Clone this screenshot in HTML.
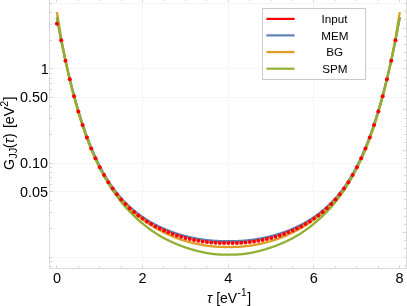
<!DOCTYPE html>
<html><head><meta charset="utf-8"><title>Plot</title>
<style>
html,body{margin:0;padding:0;background:#fff;}
body{width:407px;height:306px;overflow:hidden;}
svg{display:block;will-change:transform;font-family:"Liberation Sans",sans-serif;}
</style></head><body>
<svg width="407" height="306" viewBox="0 0 407 306">
<rect width="407" height="306" fill="#fff"/>
<g shape-rendering="crispEdges"><rect x="50" y="3" width="356" height="1" fill="#f5f5f5"/><rect x="50" y="68" width="356" height="1" fill="#f5f5f5"/><rect x="50" y="97" width="356" height="1" fill="#f5f5f5"/><rect x="50" y="163" width="356" height="1" fill="#f5f5f5"/><rect x="50" y="191" width="356" height="1" fill="#f5f5f5"/><rect x="50" y="257" width="356" height="1" fill="#f5f5f5"/><rect x="142" y="0" width="1" height="268" fill="#f5f5f5"/><rect x="228" y="0" width="1" height="268" fill="#f5f5f5"/><rect x="313" y="0" width="1" height="268" fill="#f5f5f5"/><rect x="49" y="-1" width="1" height="270" fill="#d9d9d9"/><rect x="406" y="-1" width="1" height="270" fill="#d9d9d9"/><rect x="49" y="268" width="358" height="1" fill="#d9d9d9"/><rect x="50" y="68" width="3" height="1" fill="#d6d6d6"/><rect x="50" y="97" width="3" height="1" fill="#d6d6d6"/><rect x="50" y="163" width="3" height="1" fill="#d6d6d6"/><rect x="50" y="191" width="3" height="1" fill="#d6d6d6"/><rect x="50" y="3" width="2" height="1" fill="#d6d6d6"/><rect x="50" y="257" width="2" height="1" fill="#d6d6d6"/><rect x="50" y="12" width="2" height="1" fill="#d6d6d6"/><rect x="50" y="24" width="2" height="1" fill="#d6d6d6"/><rect x="50" y="40" width="2" height="1" fill="#d6d6d6"/><rect x="50" y="73" width="2" height="1" fill="#d6d6d6"/><rect x="50" y="78" width="2" height="1" fill="#d6d6d6"/><rect x="50" y="83" width="2" height="1" fill="#d6d6d6"/><rect x="50" y="89" width="2" height="1" fill="#d6d6d6"/><rect x="50" y="106" width="2" height="1" fill="#d6d6d6"/><rect x="50" y="118" width="2" height="1" fill="#d6d6d6"/><rect x="50" y="134" width="2" height="1" fill="#d6d6d6"/><rect x="50" y="167" width="2" height="1" fill="#d6d6d6"/><rect x="50" y="172" width="2" height="1" fill="#d6d6d6"/><rect x="50" y="177" width="2" height="1" fill="#d6d6d6"/><rect x="50" y="184" width="2" height="1" fill="#d6d6d6"/><rect x="50" y="200" width="2" height="1" fill="#d6d6d6"/><rect x="50" y="212" width="2" height="1" fill="#d6d6d6"/><rect x="50" y="228" width="2" height="1" fill="#d6d6d6"/><rect x="50" y="261" width="2" height="1" fill="#d6d6d6"/><rect x="50" y="266" width="2" height="1" fill="#d6d6d6"/><rect x="404" y="265" width="2" height="1" fill="#d6d6d6"/><rect x="404" y="257" width="2" height="1" fill="#d6d6d6"/><rect x="404" y="248" width="2" height="1" fill="#d6d6d6"/><rect x="404" y="240" width="2" height="1" fill="#d6d6d6"/><rect x="403" y="232" width="3" height="1" fill="#d6d6d6"/><rect x="404" y="224" width="2" height="1" fill="#d6d6d6"/><rect x="404" y="216" width="2" height="1" fill="#d6d6d6"/><rect x="404" y="208" width="2" height="1" fill="#d6d6d6"/><rect x="404" y="199" width="2" height="1" fill="#d6d6d6"/><rect x="403" y="191" width="3" height="1" fill="#d6d6d6"/><rect x="404" y="183" width="2" height="1" fill="#d6d6d6"/><rect x="404" y="175" width="2" height="1" fill="#d6d6d6"/><rect x="404" y="167" width="2" height="1" fill="#d6d6d6"/><rect x="404" y="158" width="2" height="1" fill="#d6d6d6"/><rect x="403" y="150" width="3" height="1" fill="#d6d6d6"/><rect x="404" y="142" width="2" height="1" fill="#d6d6d6"/><rect x="404" y="134" width="2" height="1" fill="#d6d6d6"/><rect x="404" y="126" width="2" height="1" fill="#d6d6d6"/><rect x="404" y="118" width="2" height="1" fill="#d6d6d6"/><rect x="403" y="109" width="3" height="1" fill="#d6d6d6"/><rect x="404" y="101" width="2" height="1" fill="#d6d6d6"/><rect x="404" y="93" width="2" height="1" fill="#d6d6d6"/><rect x="404" y="85" width="2" height="1" fill="#d6d6d6"/><rect x="404" y="77" width="2" height="1" fill="#d6d6d6"/><rect x="403" y="68" width="3" height="1" fill="#d6d6d6"/><rect x="404" y="60" width="2" height="1" fill="#d6d6d6"/><rect x="404" y="52" width="2" height="1" fill="#d6d6d6"/><rect x="404" y="44" width="2" height="1" fill="#d6d6d6"/><rect x="404" y="36" width="2" height="1" fill="#d6d6d6"/><rect x="403" y="28" width="3" height="1" fill="#d6d6d6"/><rect x="404" y="19" width="2" height="1" fill="#d6d6d6"/><rect x="404" y="11" width="2" height="1" fill="#d6d6d6"/><rect x="404" y="3" width="2" height="1" fill="#d6d6d6"/><rect x="56" y="265" width="1" height="3" fill="#d6d6d6"/><rect x="56" y="0" width="1" height="2" fill="#d6d6d6"/><rect x="78" y="266" width="1" height="2" fill="#d6d6d6"/><rect x="78" y="0" width="1" height="1" fill="#d6d6d6"/><rect x="99" y="266" width="1" height="2" fill="#d6d6d6"/><rect x="99" y="0" width="1" height="1" fill="#d6d6d6"/><rect x="121" y="266" width="1" height="2" fill="#d6d6d6"/><rect x="121" y="0" width="1" height="1" fill="#d6d6d6"/><rect x="142" y="265" width="1" height="3" fill="#d6d6d6"/><rect x="142" y="0" width="1" height="2" fill="#d6d6d6"/><rect x="163" y="266" width="1" height="2" fill="#d6d6d6"/><rect x="163" y="0" width="1" height="1" fill="#d6d6d6"/><rect x="185" y="266" width="1" height="2" fill="#d6d6d6"/><rect x="185" y="0" width="1" height="1" fill="#d6d6d6"/><rect x="206" y="266" width="1" height="2" fill="#d6d6d6"/><rect x="206" y="0" width="1" height="1" fill="#d6d6d6"/><rect x="228" y="265" width="1" height="3" fill="#d6d6d6"/><rect x="228" y="0" width="1" height="2" fill="#d6d6d6"/><rect x="249" y="266" width="1" height="2" fill="#d6d6d6"/><rect x="249" y="0" width="1" height="1" fill="#d6d6d6"/><rect x="271" y="266" width="1" height="2" fill="#d6d6d6"/><rect x="271" y="0" width="1" height="1" fill="#d6d6d6"/><rect x="292" y="266" width="1" height="2" fill="#d6d6d6"/><rect x="292" y="0" width="1" height="1" fill="#d6d6d6"/><rect x="313" y="265" width="1" height="3" fill="#d6d6d6"/><rect x="313" y="0" width="1" height="2" fill="#d6d6d6"/><rect x="335" y="266" width="1" height="2" fill="#d6d6d6"/><rect x="335" y="0" width="1" height="1" fill="#d6d6d6"/><rect x="356" y="266" width="1" height="2" fill="#d6d6d6"/><rect x="356" y="0" width="1" height="1" fill="#d6d6d6"/><rect x="378" y="266" width="1" height="2" fill="#d6d6d6"/><rect x="378" y="0" width="1" height="1" fill="#d6d6d6"/><rect x="399" y="265" width="1" height="3" fill="#d6d6d6"/><rect x="399" y="0" width="1" height="2" fill="#d6d6d6"/></g>
<g fill="none" stroke-width="2.3" stroke-linejoin="round">
<path d="M56.90,17.40 L57.33,19.68 L57.76,21.96 L58.19,24.23 L58.61,26.51 L59.04,28.79 L59.47,31.07 L59.90,33.34 L60.33,35.62 L60.76,37.90 L61.19,40.18 L61.61,42.32 L62.04,44.43 L62.47,46.52 L62.90,48.57 L63.33,50.60 L63.76,52.61 L64.19,54.60 L64.61,56.56 L65.04,58.51 L65.47,60.44 L65.90,62.35 L66.33,64.24 L66.76,66.11 L67.19,67.95 L67.61,69.78 L68.04,71.59 L68.47,73.38 L68.90,75.16 L69.33,76.92 L69.76,78.67 L70.19,80.41 L70.62,82.14 L71.04,83.84 L71.47,85.53 L71.90,87.20 L72.33,88.85 L72.76,90.49 L73.19,92.11 L73.62,93.72 L74.04,95.31 L74.47,96.88 L74.90,98.44 L75.33,99.99 L75.76,101.52 L76.19,103.04 L76.62,104.54 L77.04,106.03 L77.47,107.50 L77.90,108.96 L78.33,110.41 L78.76,111.85 L79.19,113.26 L79.62,114.67 L80.04,116.06 L80.47,117.43 L80.90,118.79 L81.33,120.14 L81.76,121.47 L82.19,122.79 L82.62,124.09 L83.04,125.38 L83.47,126.66 L83.90,127.92 L84.33,129.17 L84.76,130.41 L85.19,131.63 L85.62,132.84 L86.04,134.04 L86.47,135.22 L86.90,136.39 L87.33,137.55 L87.76,138.70 L88.19,139.83 L88.62,140.95 L89.05,142.06 L89.47,143.16 L89.90,144.24 L90.33,145.32 L90.76,146.38 L91.19,147.43 L91.62,148.47 L92.05,149.49 L92.47,150.51 L92.90,151.51 L93.33,152.51 L93.76,153.49 L94.19,154.46 L94.62,155.42 L95.05,156.37 L95.47,157.31 L95.90,158.24 L96.33,159.16 L96.76,160.07 L97.19,160.96 L97.62,161.85 L98.05,162.73 L98.47,163.60 L98.90,164.46 L99.33,165.31 L99.76,166.15 L100.19,166.98 L100.62,167.80 L101.05,168.61 L101.47,169.41 L101.90,170.20 L102.33,170.99 L102.76,171.77 L103.19,172.53 L103.62,173.29 L104.05,174.04 L104.47,174.79 L104.90,175.52 L105.33,176.25 L105.76,176.96 L106.19,177.67 L106.62,178.38 L107.05,179.07 L107.47,179.76 L107.90,180.44 L108.33,181.11 L108.76,181.77 L109.19,182.43 L109.62,183.08 L110.05,183.72 L110.47,184.36 L110.90,184.99 L111.33,185.61 L111.76,186.22 L112.19,186.83 L112.62,187.43 L113.05,188.03 L113.48,188.62 L113.90,189.20 L114.33,189.77 L114.76,190.34 L115.19,190.90 L115.62,191.46 L116.05,192.01 L116.48,192.56 L116.90,193.09 L117.33,193.63 L117.76,194.15 L118.19,194.68 L118.62,195.19 L119.05,195.70 L119.48,196.21 L119.90,196.71 L120.33,197.20 L120.76,197.69 L121.19,198.17 L121.62,198.65 L122.05,199.12 L122.48,199.59 L122.90,200.06 L123.33,200.52 L123.76,200.97 L124.19,201.42 L124.62,201.86 L125.05,202.31 L125.48,202.74 L125.90,203.17 L126.33,203.60 L126.76,204.02 L127.19,204.44 L127.62,204.85 L128.05,205.26 L128.48,205.67 L128.90,206.07 L129.33,206.47 L129.76,206.86 L130.19,207.25 L130.62,207.64 L131.05,208.02 L131.48,208.40 L131.91,208.78 L132.33,209.15 L132.76,209.52 L133.19,209.88 L133.62,210.24 L134.05,210.60 L134.48,210.95 L134.91,211.30 L135.33,211.65 L135.76,211.99 L136.19,212.33 L136.62,212.67 L137.05,213.00 L137.48,213.33 L137.91,213.66 L138.33,213.99 L138.76,214.31 L139.19,214.62 L139.62,214.94 L140.05,215.25 L140.48,215.56 L140.91,215.87 L141.33,216.17 L141.76,216.47 L142.19,216.77 L142.62,217.06 L143.05,217.36 L143.48,217.65 L143.91,217.93 L144.33,218.22 L144.76,218.50 L145.19,218.78 L145.62,219.05 L146.05,219.33 L146.48,219.60 L146.91,219.87 L147.33,220.13 L147.76,220.40 L148.19,220.66 L148.62,220.92 L149.05,221.18 L149.48,221.43 L149.91,221.68 L150.33,221.93 L150.76,222.18 L151.19,222.43 L151.62,222.67 L152.05,222.91 L152.48,223.15 L152.91,223.38 L153.34,223.62 L153.76,223.85 L154.19,224.08 L154.62,224.31 L155.05,224.53 L155.48,224.76 L155.91,224.98 L156.34,225.20 L156.76,225.42 L157.19,225.63 L157.62,225.85 L158.05,226.06 L158.48,226.27 L158.91,226.48 L159.34,226.69 L159.76,226.89 L160.19,227.09 L160.62,227.29 L161.05,227.49 L161.48,227.69 L161.91,227.88 L162.34,228.08 L162.76,228.27 L163.19,228.46 L163.62,228.65 L164.05,228.83 L164.48,229.02 L164.91,229.20 L165.34,229.38 L165.76,229.56 L166.19,229.74 L166.62,229.91 L167.05,230.09 L167.48,230.26 L167.91,230.43 L168.34,230.60 L168.76,230.77 L169.19,230.93 L169.62,231.10 L170.05,231.26 L170.48,231.42 L170.91,231.58 L171.34,231.73 L171.76,231.89 L172.19,232.05 L172.62,232.20 L173.05,232.35 L173.48,232.50 L173.91,232.65 L174.34,232.79 L174.77,232.94 L175.19,233.08 L175.62,233.23 L176.05,233.37 L176.48,233.51 L176.91,233.64 L177.34,233.78 L177.77,233.92 L178.19,234.05 L178.62,234.18 L179.05,234.31 L179.48,234.44 L179.91,234.57 L180.34,234.70 L180.77,234.82 L181.19,234.95 L181.62,235.07 L182.05,235.19 L182.48,235.31 L182.91,235.43 L183.34,235.55 L183.77,235.66 L184.19,235.78 L184.62,235.89 L185.05,236.00 L185.48,236.11 L185.91,236.22 L186.34,236.33 L186.77,236.44 L187.19,236.54 L187.62,236.65 L188.05,236.75 L188.48,236.85 L188.91,236.95 L189.34,237.05 L189.77,237.15 L190.19,237.25 L190.62,237.34 L191.05,237.44 L191.48,237.53 L191.91,237.62 L192.34,237.71 L192.77,237.80 L193.19,237.89 L193.62,237.98 L194.05,238.06 L194.48,238.15 L194.91,238.23 L195.34,238.31 L195.77,238.39 L196.20,238.47 L196.62,238.55 L197.05,238.63 L197.48,238.71 L197.91,238.78 L198.34,238.86 L198.77,238.93 L199.20,239.00 L199.62,239.07 L200.05,239.14 L200.48,239.21 L200.91,239.28 L201.34,239.34 L201.77,239.41 L202.20,239.47 L202.62,239.53 L203.05,239.60 L203.48,239.66 L203.91,239.72 L204.34,239.77 L204.77,239.83 L205.20,239.89 L205.62,239.94 L206.05,239.99 L206.48,240.05 L206.91,240.10 L207.34,240.15 L207.77,240.20 L208.20,240.24 L208.62,240.29 L209.05,240.34 L209.48,240.38 L209.91,240.42 L210.34,240.47 L210.77,240.51 L211.20,240.55 L211.62,240.59 L212.05,240.62 L212.48,240.66 L212.91,240.69 L213.34,240.73 L213.77,240.76 L214.20,240.79 L214.62,240.82 L215.05,240.85 L215.48,240.88 L215.91,240.91 L216.34,240.93 L216.77,240.96 L217.20,240.98 L217.63,241.00 L218.05,241.02 L218.48,241.04 L218.91,241.06 L219.34,241.08 L219.77,241.10 L220.20,241.11 L220.63,241.12 L221.05,241.14 L221.48,241.15 L221.91,241.16 L222.34,241.17 L222.77,241.17 L223.20,241.18 L223.63,241.18 L224.05,241.19 L224.48,241.19 L224.91,241.19 L225.34,241.19 L225.77,241.19 L226.20,241.19 L226.63,241.18 L227.05,241.18 L227.48,241.17 L227.91,241.16 L228.34,241.15 L228.77,241.16 L229.20,241.17 L229.63,241.18 L230.05,241.18 L230.48,241.19 L230.91,241.19 L231.34,241.19 L231.77,241.19 L232.20,241.19 L232.63,241.19 L233.05,241.18 L233.48,241.18 L233.91,241.17 L234.34,241.17 L234.77,241.16 L235.20,241.15 L235.63,241.14 L236.05,241.12 L236.48,241.11 L236.91,241.10 L237.34,241.08 L237.77,241.06 L238.20,241.04 L238.63,241.02 L239.05,241.00 L239.48,240.98 L239.91,240.96 L240.34,240.93 L240.77,240.91 L241.20,240.88 L241.63,240.85 L242.06,240.82 L242.48,240.79 L242.91,240.76 L243.34,240.73 L243.77,240.69 L244.20,240.66 L244.63,240.62 L245.06,240.59 L245.48,240.55 L245.91,240.51 L246.34,240.47 L246.77,240.42 L247.20,240.38 L247.63,240.34 L248.06,240.29 L248.48,240.24 L248.91,240.20 L249.34,240.15 L249.77,240.10 L250.20,240.05 L250.63,239.99 L251.06,239.94 L251.48,239.89 L251.91,239.83 L252.34,239.77 L252.77,239.72 L253.20,239.66 L253.63,239.60 L254.06,239.53 L254.48,239.47 L254.91,239.41 L255.34,239.34 L255.77,239.28 L256.20,239.21 L256.63,239.14 L257.06,239.07 L257.48,239.00 L257.91,238.93 L258.34,238.86 L258.77,238.78 L259.20,238.71 L259.63,238.63 L260.06,238.55 L260.49,238.47 L260.91,238.39 L261.34,238.31 L261.77,238.23 L262.20,238.15 L262.63,238.06 L263.06,237.98 L263.49,237.89 L263.91,237.80 L264.34,237.71 L264.77,237.62 L265.20,237.53 L265.63,237.44 L266.06,237.34 L266.49,237.25 L266.91,237.15 L267.34,237.05 L267.77,236.95 L268.20,236.85 L268.63,236.75 L269.06,236.65 L269.49,236.54 L269.91,236.44 L270.34,236.33 L270.77,236.22 L271.20,236.11 L271.63,236.00 L272.06,235.89 L272.49,235.78 L272.91,235.66 L273.34,235.55 L273.77,235.43 L274.20,235.31 L274.63,235.19 L275.06,235.07 L275.49,234.95 L275.91,234.82 L276.34,234.70 L276.77,234.57 L277.20,234.44 L277.63,234.31 L278.06,234.18 L278.49,234.05 L278.91,233.92 L279.34,233.78 L279.77,233.64 L280.20,233.51 L280.63,233.37 L281.06,233.23 L281.49,233.08 L281.91,232.94 L282.34,232.79 L282.77,232.65 L283.20,232.50 L283.63,232.35 L284.06,232.20 L284.49,232.05 L284.92,231.89 L285.34,231.73 L285.77,231.58 L286.20,231.42 L286.63,231.26 L287.06,231.10 L287.49,230.93 L287.92,230.77 L288.34,230.60 L288.77,230.43 L289.20,230.26 L289.63,230.09 L290.06,229.91 L290.49,229.74 L290.92,229.56 L291.34,229.38 L291.77,229.20 L292.20,229.02 L292.63,228.83 L293.06,228.65 L293.49,228.46 L293.92,228.27 L294.34,228.08 L294.77,227.88 L295.20,227.69 L295.63,227.49 L296.06,227.29 L296.49,227.09 L296.92,226.89 L297.34,226.69 L297.77,226.48 L298.20,226.27 L298.63,226.06 L299.06,225.85 L299.49,225.63 L299.92,225.42 L300.34,225.20 L300.77,224.98 L301.20,224.76 L301.63,224.53 L302.06,224.31 L302.49,224.08 L302.92,223.85 L303.35,223.62 L303.77,223.38 L304.20,223.15 L304.63,222.91 L305.06,222.67 L305.49,222.43 L305.92,222.18 L306.35,221.93 L306.77,221.68 L307.20,221.43 L307.63,221.18 L308.06,220.92 L308.49,220.66 L308.92,220.40 L309.35,220.13 L309.77,219.87 L310.20,219.60 L310.63,219.33 L311.06,219.05 L311.49,218.78 L311.92,218.50 L312.35,218.22 L312.77,217.93 L313.20,217.65 L313.63,217.36 L314.06,217.06 L314.49,216.77 L314.92,216.47 L315.35,216.17 L315.77,215.87 L316.20,215.56 L316.63,215.25 L317.06,214.94 L317.49,214.62 L317.92,214.31 L318.35,213.99 L318.77,213.66 L319.20,213.33 L319.63,213.00 L320.06,212.67 L320.49,212.33 L320.92,211.99 L321.35,211.65 L321.77,211.30 L322.20,210.95 L322.63,210.60 L323.06,210.24 L323.49,209.88 L323.92,209.52 L324.35,209.15 L324.77,208.78 L325.20,208.40 L325.63,208.02 L326.06,207.64 L326.49,207.25 L326.92,206.86 L327.35,206.47 L327.78,206.07 L328.20,205.67 L328.63,205.26 L329.06,204.85 L329.49,204.44 L329.92,204.02 L330.35,203.60 L330.78,203.17 L331.20,202.74 L331.63,202.31 L332.06,201.86 L332.49,201.42 L332.92,200.97 L333.35,200.52 L333.78,200.06 L334.20,199.59 L334.63,199.12 L335.06,198.65 L335.49,198.17 L335.92,197.69 L336.35,197.20 L336.78,196.71 L337.20,196.21 L337.63,195.70 L338.06,195.19 L338.49,194.68 L338.92,194.15 L339.35,193.63 L339.78,193.09 L340.20,192.56 L340.63,192.01 L341.06,191.46 L341.49,190.90 L341.92,190.34 L342.35,189.77 L342.78,189.20 L343.20,188.62 L343.63,188.03 L344.06,187.43 L344.49,186.83 L344.92,186.22 L345.35,185.61 L345.78,184.99 L346.21,184.36 L346.63,183.72 L347.06,183.08 L347.49,182.43 L347.92,181.77 L348.35,181.11 L348.78,180.44 L349.21,179.76 L349.63,179.07 L350.06,178.38 L350.49,177.67 L350.92,176.96 L351.35,176.25 L351.78,175.52 L352.21,174.79 L352.63,174.04 L353.06,173.29 L353.49,172.53 L353.92,171.77 L354.35,170.99 L354.78,170.20 L355.21,169.41 L355.63,168.61 L356.06,167.80 L356.49,166.98 L356.92,166.15 L357.35,165.31 L357.78,164.46 L358.21,163.60 L358.63,162.73 L359.06,161.85 L359.49,160.96 L359.92,160.07 L360.35,159.16 L360.78,158.24 L361.21,157.31 L361.63,156.37 L362.06,155.42 L362.49,154.46 L362.92,153.49 L363.35,152.51 L363.78,151.51 L364.21,150.51 L364.63,149.49 L365.06,148.47 L365.49,147.43 L365.92,146.38 L366.35,145.32 L366.78,144.24 L367.21,143.16 L367.63,142.06 L368.06,140.95 L368.49,139.83 L368.92,138.70 L369.35,137.55 L369.78,136.39 L370.21,135.22 L370.64,134.04 L371.06,132.84 L371.49,131.63 L371.92,130.41 L372.35,129.17 L372.78,127.92 L373.21,126.66 L373.64,125.38 L374.06,124.09 L374.49,122.79 L374.92,121.47 L375.35,120.14 L375.78,118.79 L376.21,117.43 L376.64,116.06 L377.06,114.67 L377.49,113.26 L377.92,111.85 L378.35,110.41 L378.78,108.96 L379.21,107.50 L379.64,106.03 L380.06,104.54 L380.49,103.04 L380.92,101.52 L381.35,99.99 L381.78,98.44 L382.21,96.88 L382.64,95.31 L383.06,93.72 L383.49,92.11 L383.92,90.49 L384.35,88.85 L384.78,87.20 L385.21,85.53 L385.64,83.84 L386.06,82.14 L386.49,80.41 L386.92,78.67 L387.35,76.92 L387.78,75.16 L388.21,73.38 L388.64,71.59 L389.06,69.78 L389.49,67.95 L389.92,66.11 L390.35,64.24 L390.78,62.35 L391.21,60.44 L391.64,58.51 L392.07,56.56 L392.49,54.60 L392.92,52.61 L393.35,50.60 L393.78,48.57 L394.21,46.52 L394.64,44.43 L395.07,42.32 L395.49,40.18 L395.92,37.90 L396.35,35.62 L396.78,33.34 L397.21,31.07 L397.64,28.79 L398.07,26.51 L398.49,24.23 L398.92,21.96 L399.35,19.68 L399.78,17.40" stroke="#5E81B5"/>
<path d="M56.90,12.10 L57.33,14.69 L57.76,17.28 L58.19,19.86 L58.61,22.45 L59.04,25.04 L59.47,27.63 L59.90,30.21 L60.33,32.80 L60.76,35.39 L61.19,37.98 L61.61,40.16 L62.04,42.38 L62.47,44.62 L62.90,46.88 L63.33,49.15 L63.76,51.41 L64.19,53.65 L64.61,55.86 L65.04,58.03 L65.47,60.14 L65.90,62.22 L66.33,64.29 L66.76,66.33 L67.19,68.35 L67.61,70.35 L68.04,72.32 L68.47,74.26 L68.90,76.17 L69.33,78.04 L69.76,79.87 L70.19,81.68 L70.62,83.47 L71.04,85.23 L71.47,86.98 L71.90,88.71 L72.33,90.42 L72.76,92.11 L73.19,93.79 L73.62,95.44 L74.04,97.08 L74.47,98.69 L74.90,100.29 L75.33,101.87 L75.76,103.43 L76.19,104.97 L76.62,106.50 L77.04,108.00 L77.47,109.49 L77.90,110.96 L78.33,112.41 L78.76,113.85 L79.19,115.26 L79.62,116.67 L80.04,118.06 L80.47,119.43 L80.90,120.79 L81.33,122.13 L81.76,123.46 L82.19,124.78 L82.62,126.08 L83.04,127.37 L83.47,128.64 L83.90,129.90 L84.33,131.15 L84.76,132.38 L85.19,133.60 L85.62,134.80 L86.04,136.00 L86.47,137.18 L86.90,138.34 L87.33,139.50 L87.76,140.64 L88.19,141.77 L88.62,142.88 L89.05,143.99 L89.47,145.08 L89.90,146.16 L90.33,147.23 L90.76,148.28 L91.19,149.33 L91.62,150.36 L92.05,151.38 L92.47,152.38 L92.90,153.38 L93.33,154.36 L93.76,155.33 L94.19,156.28 L94.62,157.23 L95.05,158.16 L95.47,159.09 L95.90,160.00 L96.33,160.90 L96.76,161.79 L97.19,162.67 L97.62,163.55 L98.05,164.41 L98.47,165.27 L98.90,166.11 L99.33,166.95 L99.76,167.78 L100.19,168.60 L100.62,169.41 L101.05,170.21 L101.47,171.01 L101.90,171.79 L102.33,172.56 L102.76,173.33 L103.19,174.09 L103.62,174.84 L104.05,175.58 L104.47,176.31 L104.90,177.04 L105.33,177.76 L105.76,178.47 L106.19,179.18 L106.62,179.88 L107.05,180.57 L107.47,181.25 L107.90,181.93 L108.33,182.61 L108.76,183.28 L109.19,183.94 L109.62,184.59 L110.05,185.24 L110.47,185.88 L110.90,186.51 L111.33,187.14 L111.76,187.76 L112.19,188.38 L112.62,188.99 L113.05,189.59 L113.48,190.18 L113.90,190.77 L114.33,191.36 L114.76,191.93 L115.19,192.50 L115.62,193.07 L116.05,193.63 L116.48,194.18 L116.90,194.73 L117.33,195.27 L117.76,195.81 L118.19,196.34 L118.62,196.87 L119.05,197.39 L119.48,197.90 L119.90,198.41 L120.33,198.92 L120.76,199.42 L121.19,199.91 L121.62,200.40 L122.05,200.88 L122.48,201.36 L122.90,201.84 L123.33,202.31 L123.76,202.78 L124.19,203.24 L124.62,203.70 L125.05,204.16 L125.48,204.61 L125.90,205.06 L126.33,205.50 L126.76,205.94 L127.19,206.37 L127.62,206.80 L128.05,207.23 L128.48,207.65 L128.90,208.07 L129.33,208.48 L129.76,208.90 L130.19,209.30 L130.62,209.71 L131.05,210.11 L131.48,210.50 L131.91,210.89 L132.33,211.28 L132.76,211.67 L133.19,212.05 L133.62,212.42 L134.05,212.80 L134.48,213.17 L134.91,213.53 L135.33,213.90 L135.76,214.26 L136.19,214.61 L136.62,214.97 L137.05,215.32 L137.48,215.66 L137.91,216.01 L138.33,216.35 L138.76,216.69 L139.19,217.02 L139.62,217.35 L140.05,217.68 L140.48,218.01 L140.91,218.33 L141.33,218.65 L141.76,218.97 L142.19,219.29 L142.62,219.60 L143.05,219.91 L143.48,220.22 L143.91,220.52 L144.33,220.82 L144.76,221.12 L145.19,221.42 L145.62,221.72 L146.05,222.01 L146.48,222.30 L146.91,222.59 L147.33,222.87 L147.76,223.16 L148.19,223.44 L148.62,223.72 L149.05,223.99 L149.48,224.27 L149.91,224.54 L150.33,224.81 L150.76,225.08 L151.19,225.34 L151.62,225.61 L152.05,225.87 L152.48,226.13 L152.91,226.39 L153.34,226.65 L153.76,226.91 L154.19,227.16 L154.62,227.41 L155.05,227.66 L155.48,227.91 L155.91,228.16 L156.34,228.40 L156.76,228.65 L157.19,228.89 L157.62,229.13 L158.05,229.37 L158.48,229.61 L158.91,229.84 L159.34,230.07 L159.76,230.31 L160.19,230.54 L160.62,230.76 L161.05,230.99 L161.48,231.21 L161.91,231.44 L162.34,231.66 L162.76,231.88 L163.19,232.09 L163.62,232.31 L164.05,232.52 L164.48,232.73 L164.91,232.94 L165.34,233.15 L165.76,233.35 L166.19,233.56 L166.62,233.76 L167.05,233.96 L167.48,234.16 L167.91,234.35 L168.34,234.55 L168.76,234.74 L169.19,234.93 L169.62,235.12 L170.05,235.31 L170.48,235.50 L170.91,235.68 L171.34,235.87 L171.76,236.05 L172.19,236.23 L172.62,236.41 L173.05,236.59 L173.48,236.76 L173.91,236.94 L174.34,237.11 L174.77,237.28 L175.19,237.45 L175.62,237.62 L176.05,237.79 L176.48,237.95 L176.91,238.12 L177.34,238.28 L177.77,238.44 L178.19,238.60 L178.62,238.75 L179.05,238.91 L179.48,239.06 L179.91,239.21 L180.34,239.36 L180.77,239.50 L181.19,239.65 L181.62,239.79 L182.05,239.93 L182.48,240.07 L182.91,240.21 L183.34,240.34 L183.77,240.48 L184.19,240.61 L184.62,240.74 L185.05,240.87 L185.48,241.00 L185.91,241.13 L186.34,241.26 L186.77,241.38 L187.19,241.50 L187.62,241.63 L188.05,241.75 L188.48,241.86 L188.91,241.98 L189.34,242.10 L189.77,242.21 L190.19,242.33 L190.62,242.44 L191.05,242.55 L191.48,242.66 L191.91,242.76 L192.34,242.87 L192.77,242.97 L193.19,243.08 L193.62,243.18 L194.05,243.28 L194.48,243.38 L194.91,243.48 L195.34,243.57 L195.77,243.67 L196.20,243.76 L196.62,243.85 L197.05,243.94 L197.48,244.03 L197.91,244.12 L198.34,244.21 L198.77,244.29 L199.20,244.38 L199.62,244.46 L200.05,244.54 L200.48,244.62 L200.91,244.70 L201.34,244.78 L201.77,244.86 L202.20,244.93 L202.62,245.01 L203.05,245.08 L203.48,245.15 L203.91,245.22 L204.34,245.29 L204.77,245.36 L205.20,245.43 L205.62,245.50 L206.05,245.56 L206.48,245.62 L206.91,245.69 L207.34,245.75 L207.77,245.81 L208.20,245.86 L208.62,245.92 L209.05,245.97 L209.48,246.03 L209.91,246.08 L210.34,246.13 L210.77,246.18 L211.20,246.23 L211.62,246.27 L212.05,246.32 L212.48,246.36 L212.91,246.40 L213.34,246.44 L213.77,246.48 L214.20,246.52 L214.62,246.55 L215.05,246.59 L215.48,246.62 L215.91,246.65 L216.34,246.68 L216.77,246.70 L217.20,246.73 L217.63,246.76 L218.05,246.78 L218.48,246.80 L218.91,246.82 L219.34,246.85 L219.77,246.86 L220.20,246.88 L220.63,246.90 L221.05,246.91 L221.48,246.93 L221.91,246.94 L222.34,246.95 L222.77,246.96 L223.20,246.97 L223.63,246.97 L224.05,246.98 L224.48,246.98 L224.91,246.98 L225.34,246.99 L225.77,246.99 L226.20,246.98 L226.63,246.98 L227.05,246.97 L227.48,246.97 L227.91,246.96 L228.34,246.95 L228.77,246.96 L229.20,246.97 L229.63,246.97 L230.05,246.98 L230.48,246.98 L230.91,246.99 L231.34,246.99 L231.77,246.98 L232.20,246.98 L232.63,246.98 L233.05,246.97 L233.48,246.97 L233.91,246.96 L234.34,246.95 L234.77,246.94 L235.20,246.93 L235.63,246.91 L236.05,246.90 L236.48,246.88 L236.91,246.86 L237.34,246.85 L237.77,246.82 L238.20,246.80 L238.63,246.78 L239.05,246.76 L239.48,246.73 L239.91,246.70 L240.34,246.68 L240.77,246.65 L241.20,246.62 L241.63,246.59 L242.06,246.55 L242.48,246.52 L242.91,246.48 L243.34,246.44 L243.77,246.40 L244.20,246.36 L244.63,246.32 L245.06,246.27 L245.48,246.23 L245.91,246.18 L246.34,246.13 L246.77,246.08 L247.20,246.03 L247.63,245.97 L248.06,245.92 L248.48,245.86 L248.91,245.81 L249.34,245.75 L249.77,245.69 L250.20,245.62 L250.63,245.56 L251.06,245.50 L251.48,245.43 L251.91,245.36 L252.34,245.29 L252.77,245.22 L253.20,245.15 L253.63,245.08 L254.06,245.01 L254.48,244.93 L254.91,244.86 L255.34,244.78 L255.77,244.70 L256.20,244.62 L256.63,244.54 L257.06,244.46 L257.48,244.38 L257.91,244.29 L258.34,244.21 L258.77,244.12 L259.20,244.03 L259.63,243.94 L260.06,243.85 L260.49,243.76 L260.91,243.67 L261.34,243.57 L261.77,243.48 L262.20,243.38 L262.63,243.28 L263.06,243.18 L263.49,243.08 L263.91,242.97 L264.34,242.87 L264.77,242.76 L265.20,242.66 L265.63,242.55 L266.06,242.44 L266.49,242.33 L266.91,242.21 L267.34,242.10 L267.77,241.98 L268.20,241.86 L268.63,241.75 L269.06,241.63 L269.49,241.50 L269.91,241.38 L270.34,241.26 L270.77,241.13 L271.20,241.00 L271.63,240.87 L272.06,240.74 L272.49,240.61 L272.91,240.48 L273.34,240.34 L273.77,240.21 L274.20,240.07 L274.63,239.93 L275.06,239.79 L275.49,239.65 L275.91,239.50 L276.34,239.36 L276.77,239.21 L277.20,239.06 L277.63,238.91 L278.06,238.75 L278.49,238.60 L278.91,238.44 L279.34,238.28 L279.77,238.12 L280.20,237.95 L280.63,237.79 L281.06,237.62 L281.49,237.45 L281.91,237.28 L282.34,237.11 L282.77,236.94 L283.20,236.76 L283.63,236.59 L284.06,236.41 L284.49,236.23 L284.92,236.05 L285.34,235.87 L285.77,235.68 L286.20,235.50 L286.63,235.31 L287.06,235.12 L287.49,234.93 L287.92,234.74 L288.34,234.55 L288.77,234.35 L289.20,234.16 L289.63,233.96 L290.06,233.76 L290.49,233.56 L290.92,233.35 L291.34,233.15 L291.77,232.94 L292.20,232.73 L292.63,232.52 L293.06,232.31 L293.49,232.09 L293.92,231.88 L294.34,231.66 L294.77,231.44 L295.20,231.21 L295.63,230.99 L296.06,230.76 L296.49,230.54 L296.92,230.31 L297.34,230.07 L297.77,229.84 L298.20,229.61 L298.63,229.37 L299.06,229.13 L299.49,228.89 L299.92,228.65 L300.34,228.40 L300.77,228.16 L301.20,227.91 L301.63,227.66 L302.06,227.41 L302.49,227.16 L302.92,226.91 L303.35,226.65 L303.77,226.39 L304.20,226.13 L304.63,225.87 L305.06,225.61 L305.49,225.34 L305.92,225.08 L306.35,224.81 L306.77,224.54 L307.20,224.27 L307.63,223.99 L308.06,223.72 L308.49,223.44 L308.92,223.16 L309.35,222.87 L309.77,222.59 L310.20,222.30 L310.63,222.01 L311.06,221.72 L311.49,221.42 L311.92,221.12 L312.35,220.82 L312.77,220.52 L313.20,220.22 L313.63,219.91 L314.06,219.60 L314.49,219.29 L314.92,218.97 L315.35,218.65 L315.77,218.33 L316.20,218.01 L316.63,217.68 L317.06,217.35 L317.49,217.02 L317.92,216.69 L318.35,216.35 L318.77,216.01 L319.20,215.66 L319.63,215.32 L320.06,214.97 L320.49,214.61 L320.92,214.26 L321.35,213.90 L321.77,213.53 L322.20,213.17 L322.63,212.80 L323.06,212.42 L323.49,212.05 L323.92,211.67 L324.35,211.28 L324.77,210.89 L325.20,210.50 L325.63,210.11 L326.06,209.71 L326.49,209.30 L326.92,208.90 L327.35,208.48 L327.78,208.07 L328.20,207.65 L328.63,207.23 L329.06,206.80 L329.49,206.37 L329.92,205.94 L330.35,205.50 L330.78,205.06 L331.20,204.61 L331.63,204.16 L332.06,203.70 L332.49,203.24 L332.92,202.78 L333.35,202.31 L333.78,201.84 L334.20,201.36 L334.63,200.88 L335.06,200.40 L335.49,199.91 L335.92,199.42 L336.35,198.92 L336.78,198.41 L337.20,197.90 L337.63,197.39 L338.06,196.87 L338.49,196.34 L338.92,195.81 L339.35,195.27 L339.78,194.73 L340.20,194.18 L340.63,193.63 L341.06,193.07 L341.49,192.50 L341.92,191.93 L342.35,191.36 L342.78,190.77 L343.20,190.18 L343.63,189.59 L344.06,188.99 L344.49,188.38 L344.92,187.76 L345.35,187.14 L345.78,186.51 L346.21,185.88 L346.63,185.24 L347.06,184.59 L347.49,183.94 L347.92,183.28 L348.35,182.61 L348.78,181.93 L349.21,181.25 L349.63,180.57 L350.06,179.88 L350.49,179.18 L350.92,178.47 L351.35,177.76 L351.78,177.04 L352.21,176.31 L352.63,175.58 L353.06,174.84 L353.49,174.09 L353.92,173.33 L354.35,172.56 L354.78,171.79 L355.21,171.01 L355.63,170.21 L356.06,169.41 L356.49,168.60 L356.92,167.78 L357.35,166.95 L357.78,166.11 L358.21,165.27 L358.63,164.41 L359.06,163.55 L359.49,162.67 L359.92,161.79 L360.35,160.90 L360.78,160.00 L361.21,159.09 L361.63,158.16 L362.06,157.23 L362.49,156.28 L362.92,155.33 L363.35,154.36 L363.78,153.38 L364.21,152.38 L364.63,151.38 L365.06,150.36 L365.49,149.33 L365.92,148.28 L366.35,147.23 L366.78,146.16 L367.21,145.08 L367.63,143.99 L368.06,142.88 L368.49,141.77 L368.92,140.64 L369.35,139.50 L369.78,138.34 L370.21,137.18 L370.64,136.00 L371.06,134.80 L371.49,133.60 L371.92,132.38 L372.35,131.15 L372.78,129.90 L373.21,128.64 L373.64,127.37 L374.06,126.08 L374.49,124.78 L374.92,123.46 L375.35,122.13 L375.78,120.79 L376.21,119.43 L376.64,118.06 L377.06,116.67 L377.49,115.26 L377.92,113.85 L378.35,112.41 L378.78,110.96 L379.21,109.49 L379.64,108.00 L380.06,106.50 L380.49,104.97 L380.92,103.43 L381.35,101.87 L381.78,100.29 L382.21,98.69 L382.64,97.08 L383.06,95.44 L383.49,93.79 L383.92,92.11 L384.35,90.42 L384.78,88.71 L385.21,86.98 L385.64,85.23 L386.06,83.47 L386.49,81.68 L386.92,79.87 L387.35,78.04 L387.78,76.17 L388.21,74.26 L388.64,72.32 L389.06,70.35 L389.49,68.35 L389.92,66.33 L390.35,64.29 L390.78,62.22 L391.21,60.14 L391.64,58.03 L392.07,55.86 L392.49,53.65 L392.92,51.41 L393.35,49.15 L393.78,46.88 L394.21,44.62 L394.64,42.38 L395.07,40.16 L395.49,37.98 L395.92,35.39 L396.35,32.80 L396.78,30.21 L397.21,27.63 L397.64,25.04 L398.07,22.45 L398.49,19.86 L398.92,17.28 L399.35,14.69 L399.78,12.10" stroke="#E19C24"/>
<path d="M56.90,17.10 L57.33,19.41 L57.76,21.72 L58.19,24.02 L58.61,26.33 L59.04,28.64 L59.47,30.95 L59.90,33.25 L60.33,35.56 L60.76,37.87 L61.19,40.18 L61.61,42.33 L62.04,44.45 L62.47,46.56 L62.90,48.65 L63.33,50.71 L63.76,52.76 L64.19,54.78 L64.61,56.79 L65.04,58.78 L65.47,60.74 L65.90,62.69 L66.33,64.62 L66.76,66.53 L67.19,68.42 L67.61,70.29 L68.04,72.14 L68.47,73.98 L68.90,75.80 L69.33,77.59 L69.76,79.37 L70.19,81.14 L70.62,82.88 L71.04,84.61 L71.47,86.32 L71.90,88.01 L72.33,89.69 L72.76,91.34 L73.19,92.98 L73.62,94.61 L74.04,96.22 L74.47,97.81 L74.90,99.38 L75.33,100.95 L75.76,102.49 L76.19,104.02 L76.62,105.54 L77.04,107.04 L77.47,108.52 L77.90,109.99 L78.33,111.45 L78.76,112.89 L79.19,114.32 L79.62,115.73 L80.04,117.13 L80.47,118.51 L80.90,119.88 L81.33,121.24 L81.76,122.58 L82.19,123.91 L82.62,125.23 L83.04,126.53 L83.47,127.82 L83.90,129.09 L84.33,130.35 L84.76,131.60 L85.19,132.84 L85.62,134.06 L86.04,135.27 L86.47,136.47 L86.90,137.65 L87.33,138.83 L87.76,139.99 L88.19,141.13 L88.62,142.27 L89.05,143.39 L89.47,144.50 L89.90,145.60 L90.33,146.69 L90.76,147.76 L91.19,148.83 L91.62,149.88 L92.05,150.92 L92.47,151.95 L92.90,152.97 L93.33,153.98 L93.76,154.98 L94.19,155.97 L94.62,156.94 L95.05,157.91 L95.47,158.87 L95.90,159.82 L96.33,160.75 L96.76,161.68 L97.19,162.60 L97.62,163.51 L98.05,164.41 L98.47,165.30 L98.90,166.18 L99.33,167.05 L99.76,167.91 L100.19,168.76 L100.62,169.61 L101.05,170.44 L101.47,171.27 L101.90,172.09 L102.33,172.90 L102.76,173.70 L103.19,174.49 L103.62,175.28 L104.05,176.06 L104.47,176.83 L104.90,177.59 L105.33,178.34 L105.76,179.09 L106.19,179.83 L106.62,180.56 L107.05,181.28 L107.47,182.00 L107.90,182.71 L108.33,183.41 L108.76,184.10 L109.19,184.79 L109.62,185.48 L110.05,186.16 L110.47,186.83 L110.90,187.49 L111.33,188.15 L111.76,188.81 L112.19,189.46 L112.62,190.10 L113.05,190.74 L113.48,191.37 L113.90,192.00 L114.33,192.62 L114.76,193.24 L115.19,193.85 L115.62,194.45 L116.05,195.05 L116.48,195.64 L116.90,196.23 L117.33,196.82 L117.76,197.39 L118.19,197.97 L118.62,198.54 L119.05,199.10 L119.48,199.66 L119.90,200.21 L120.33,200.75 L120.76,201.30 L121.19,201.83 L121.62,202.37 L122.05,202.89 L122.48,203.42 L122.90,203.93 L123.33,204.45 L123.76,204.95 L124.19,205.46 L124.62,205.95 L125.05,206.45 L125.48,206.93 L125.90,207.42 L126.33,207.90 L126.76,208.37 L127.19,208.84 L127.62,209.31 L128.05,209.78 L128.48,210.24 L128.90,210.69 L129.33,211.15 L129.76,211.60 L130.19,212.04 L130.62,212.48 L131.05,212.92 L131.48,213.36 L131.91,213.79 L132.33,214.22 L132.76,214.64 L133.19,215.06 L133.62,215.48 L134.05,215.90 L134.48,216.31 L134.91,216.72 L135.33,217.12 L135.76,217.53 L136.19,217.93 L136.62,218.32 L137.05,218.72 L137.48,219.11 L137.91,219.50 L138.33,219.88 L138.76,220.26 L139.19,220.64 L139.62,221.02 L140.05,221.39 L140.48,221.76 L140.91,222.13 L141.33,222.50 L141.76,222.86 L142.19,223.22 L142.62,223.57 L143.05,223.93 L143.48,224.28 L143.91,224.62 L144.33,224.97 L144.76,225.31 L145.19,225.65 L145.62,225.99 L146.05,226.32 L146.48,226.65 L146.91,226.98 L147.33,227.31 L147.76,227.64 L148.19,227.96 L148.62,228.28 L149.05,228.59 L149.48,228.91 L149.91,229.22 L150.33,229.53 L150.76,229.84 L151.19,230.14 L151.62,230.45 L152.05,230.75 L152.48,231.05 L152.91,231.35 L153.34,231.65 L153.76,231.94 L154.19,232.23 L154.62,232.52 L155.05,232.81 L155.48,233.10 L155.91,233.38 L156.34,233.66 L156.76,233.94 L157.19,234.21 L157.62,234.48 L158.05,234.75 L158.48,235.02 L158.91,235.28 L159.34,235.54 L159.76,235.79 L160.19,236.04 L160.62,236.29 L161.05,236.54 L161.48,236.78 L161.91,237.02 L162.34,237.26 L162.76,237.50 L163.19,237.73 L163.62,237.96 L164.05,238.19 L164.48,238.41 L164.91,238.64 L165.34,238.86 L165.76,239.08 L166.19,239.30 L166.62,239.51 L167.05,239.73 L167.48,239.94 L167.91,240.15 L168.34,240.36 L168.76,240.56 L169.19,240.77 L169.62,240.97 L170.05,241.17 L170.48,241.37 L170.91,241.57 L171.34,241.76 L171.76,241.96 L172.19,242.15 L172.62,242.34 L173.05,242.53 L173.48,242.72 L173.91,242.91 L174.34,243.09 L174.77,243.28 L175.19,243.46 L175.62,243.65 L176.05,243.83 L176.48,244.01 L176.91,244.18 L177.34,244.36 L177.77,244.54 L178.19,244.71 L178.62,244.88 L179.05,245.06 L179.48,245.23 L179.91,245.40 L180.34,245.56 L180.77,245.73 L181.19,245.89 L181.62,246.06 L182.05,246.22 L182.48,246.38 L182.91,246.53 L183.34,246.69 L183.77,246.85 L184.19,247.00 L184.62,247.15 L185.05,247.30 L185.48,247.45 L185.91,247.60 L186.34,247.74 L186.77,247.88 L187.19,248.03 L187.62,248.17 L188.05,248.30 L188.48,248.44 L188.91,248.58 L189.34,248.71 L189.77,248.84 L190.19,248.97 L190.62,249.10 L191.05,249.23 L191.48,249.36 L191.91,249.48 L192.34,249.61 L192.77,249.73 L193.19,249.85 L193.62,249.97 L194.05,250.09 L194.48,250.21 L194.91,250.32 L195.34,250.44 L195.77,250.55 L196.20,250.66 L196.62,250.77 L197.05,250.88 L197.48,250.99 L197.91,251.09 L198.34,251.19 L198.77,251.30 L199.20,251.40 L199.62,251.50 L200.05,251.60 L200.48,251.69 L200.91,251.79 L201.34,251.88 L201.77,251.98 L202.20,252.07 L202.62,252.17 L203.05,252.26 L203.48,252.35 L203.91,252.44 L204.34,252.53 L204.77,252.62 L205.20,252.70 L205.62,252.79 L206.05,252.87 L206.48,252.96 L206.91,253.04 L207.34,253.12 L207.77,253.19 L208.20,253.27 L208.62,253.34 L209.05,253.41 L209.48,253.48 L209.91,253.55 L210.34,253.62 L210.77,253.68 L211.20,253.74 L211.62,253.80 L212.05,253.86 L212.48,253.92 L212.91,253.97 L213.34,254.02 L213.77,254.06 L214.20,254.11 L214.62,254.15 L215.05,254.19 L215.48,254.23 L215.91,254.26 L216.34,254.30 L216.77,254.33 L217.20,254.36 L217.63,254.39 L218.05,254.42 L218.48,254.45 L218.91,254.47 L219.34,254.50 L219.77,254.52 L220.20,254.54 L220.63,254.56 L221.05,254.58 L221.48,254.60 L221.91,254.61 L222.34,254.63 L222.77,254.64 L223.20,254.65 L223.63,254.66 L224.05,254.67 L224.48,254.67 L224.91,254.68 L225.34,254.68 L225.77,254.68 L226.20,254.68 L226.63,254.68 L227.05,254.67 L227.48,254.67 L227.91,254.66 L228.34,254.65 L228.77,254.66 L229.20,254.67 L229.63,254.67 L230.05,254.68 L230.48,254.68 L230.91,254.68 L231.34,254.68 L231.77,254.68 L232.20,254.67 L232.63,254.67 L233.05,254.66 L233.48,254.65 L233.91,254.64 L234.34,254.63 L234.77,254.61 L235.20,254.60 L235.63,254.58 L236.05,254.56 L236.48,254.54 L236.91,254.52 L237.34,254.50 L237.77,254.47 L238.20,254.45 L238.63,254.42 L239.05,254.39 L239.48,254.36 L239.91,254.33 L240.34,254.30 L240.77,254.26 L241.20,254.23 L241.63,254.19 L242.06,254.15 L242.48,254.11 L242.91,254.06 L243.34,254.02 L243.77,253.97 L244.20,253.92 L244.63,253.86 L245.06,253.80 L245.48,253.74 L245.91,253.68 L246.34,253.62 L246.77,253.55 L247.20,253.48 L247.63,253.41 L248.06,253.34 L248.48,253.27 L248.91,253.19 L249.34,253.12 L249.77,253.04 L250.20,252.96 L250.63,252.87 L251.06,252.79 L251.48,252.70 L251.91,252.62 L252.34,252.53 L252.77,252.44 L253.20,252.35 L253.63,252.26 L254.06,252.17 L254.48,252.07 L254.91,251.98 L255.34,251.88 L255.77,251.79 L256.20,251.69 L256.63,251.60 L257.06,251.50 L257.48,251.40 L257.91,251.30 L258.34,251.19 L258.77,251.09 L259.20,250.99 L259.63,250.88 L260.06,250.77 L260.49,250.66 L260.91,250.55 L261.34,250.44 L261.77,250.32 L262.20,250.21 L262.63,250.09 L263.06,249.97 L263.49,249.85 L263.91,249.73 L264.34,249.61 L264.77,249.48 L265.20,249.36 L265.63,249.23 L266.06,249.10 L266.49,248.97 L266.91,248.84 L267.34,248.71 L267.77,248.58 L268.20,248.44 L268.63,248.30 L269.06,248.17 L269.49,248.03 L269.91,247.88 L270.34,247.74 L270.77,247.60 L271.20,247.45 L271.63,247.30 L272.06,247.15 L272.49,247.00 L272.91,246.85 L273.34,246.69 L273.77,246.53 L274.20,246.38 L274.63,246.22 L275.06,246.06 L275.49,245.89 L275.91,245.73 L276.34,245.56 L276.77,245.40 L277.20,245.23 L277.63,245.06 L278.06,244.88 L278.49,244.71 L278.91,244.54 L279.34,244.36 L279.77,244.18 L280.20,244.01 L280.63,243.83 L281.06,243.65 L281.49,243.46 L281.91,243.28 L282.34,243.09 L282.77,242.91 L283.20,242.72 L283.63,242.53 L284.06,242.34 L284.49,242.15 L284.92,241.96 L285.34,241.76 L285.77,241.57 L286.20,241.37 L286.63,241.17 L287.06,240.97 L287.49,240.77 L287.92,240.56 L288.34,240.36 L288.77,240.15 L289.20,239.94 L289.63,239.73 L290.06,239.51 L290.49,239.30 L290.92,239.08 L291.34,238.86 L291.77,238.64 L292.20,238.41 L292.63,238.19 L293.06,237.96 L293.49,237.73 L293.92,237.50 L294.34,237.26 L294.77,237.02 L295.20,236.78 L295.63,236.54 L296.06,236.29 L296.49,236.04 L296.92,235.79 L297.34,235.54 L297.77,235.28 L298.20,235.02 L298.63,234.75 L299.06,234.48 L299.49,234.21 L299.92,233.94 L300.34,233.66 L300.77,233.38 L301.20,233.10 L301.63,232.81 L302.06,232.52 L302.49,232.23 L302.92,231.94 L303.35,231.65 L303.77,231.35 L304.20,231.05 L304.63,230.75 L305.06,230.45 L305.49,230.14 L305.92,229.84 L306.35,229.53 L306.77,229.22 L307.20,228.91 L307.63,228.59 L308.06,228.28 L308.49,227.96 L308.92,227.64 L309.35,227.31 L309.77,226.98 L310.20,226.65 L310.63,226.32 L311.06,225.99 L311.49,225.65 L311.92,225.31 L312.35,224.97 L312.77,224.62 L313.20,224.28 L313.63,223.93 L314.06,223.57 L314.49,223.22 L314.92,222.86 L315.35,222.50 L315.77,222.13 L316.20,221.76 L316.63,221.39 L317.06,221.02 L317.49,220.64 L317.92,220.26 L318.35,219.88 L318.77,219.50 L319.20,219.11 L319.63,218.72 L320.06,218.32 L320.49,217.93 L320.92,217.53 L321.35,217.12 L321.77,216.72 L322.20,216.31 L322.63,215.90 L323.06,215.48 L323.49,215.06 L323.92,214.64 L324.35,214.22 L324.77,213.79 L325.20,213.36 L325.63,212.92 L326.06,212.48 L326.49,212.04 L326.92,211.60 L327.35,211.15 L327.78,210.69 L328.20,210.24 L328.63,209.78 L329.06,209.31 L329.49,208.84 L329.92,208.37 L330.35,207.90 L330.78,207.42 L331.20,206.93 L331.63,206.45 L332.06,205.95 L332.49,205.46 L332.92,204.95 L333.35,204.45 L333.78,203.93 L334.20,203.42 L334.63,202.89 L335.06,202.37 L335.49,201.83 L335.92,201.30 L336.35,200.75 L336.78,200.21 L337.20,199.66 L337.63,199.10 L338.06,198.54 L338.49,197.97 L338.92,197.39 L339.35,196.82 L339.78,196.23 L340.20,195.64 L340.63,195.05 L341.06,194.45 L341.49,193.85 L341.92,193.24 L342.35,192.62 L342.78,192.00 L343.20,191.37 L343.63,190.74 L344.06,190.10 L344.49,189.46 L344.92,188.81 L345.35,188.15 L345.78,187.49 L346.21,186.83 L346.63,186.16 L347.06,185.48 L347.49,184.79 L347.92,184.10 L348.35,183.41 L348.78,182.71 L349.21,182.00 L349.63,181.28 L350.06,180.56 L350.49,179.83 L350.92,179.09 L351.35,178.34 L351.78,177.59 L352.21,176.83 L352.63,176.06 L353.06,175.28 L353.49,174.49 L353.92,173.70 L354.35,172.90 L354.78,172.09 L355.21,171.27 L355.63,170.44 L356.06,169.61 L356.49,168.76 L356.92,167.91 L357.35,167.05 L357.78,166.18 L358.21,165.30 L358.63,164.41 L359.06,163.51 L359.49,162.60 L359.92,161.68 L360.35,160.75 L360.78,159.82 L361.21,158.87 L361.63,157.91 L362.06,156.94 L362.49,155.97 L362.92,154.98 L363.35,153.98 L363.78,152.97 L364.21,151.95 L364.63,150.92 L365.06,149.88 L365.49,148.83 L365.92,147.76 L366.35,146.69 L366.78,145.60 L367.21,144.50 L367.63,143.39 L368.06,142.27 L368.49,141.13 L368.92,139.99 L369.35,138.83 L369.78,137.65 L370.21,136.47 L370.64,135.27 L371.06,134.06 L371.49,132.84 L371.92,131.60 L372.35,130.35 L372.78,129.09 L373.21,127.82 L373.64,126.53 L374.06,125.23 L374.49,123.91 L374.92,122.58 L375.35,121.24 L375.78,119.88 L376.21,118.51 L376.64,117.13 L377.06,115.73 L377.49,114.32 L377.92,112.89 L378.35,111.45 L378.78,109.99 L379.21,108.52 L379.64,107.04 L380.06,105.54 L380.49,104.02 L380.92,102.49 L381.35,100.95 L381.78,99.38 L382.21,97.81 L382.64,96.22 L383.06,94.61 L383.49,92.98 L383.92,91.34 L384.35,89.69 L384.78,88.01 L385.21,86.32 L385.64,84.61 L386.06,82.88 L386.49,81.14 L386.92,79.37 L387.35,77.59 L387.78,75.80 L388.21,73.98 L388.64,72.14 L389.06,70.29 L389.49,68.42 L389.92,66.53 L390.35,64.62 L390.78,62.69 L391.21,60.74 L391.64,58.78 L392.07,56.79 L392.49,54.78 L392.92,52.76 L393.35,50.71 L393.78,48.65 L394.21,46.56 L394.64,44.45 L395.07,42.33 L395.49,40.18 L395.92,37.87 L396.35,35.56 L396.78,33.25 L397.21,30.95 L397.64,28.64 L398.07,26.33 L398.49,24.02 L398.92,21.72 L399.35,19.41 L399.78,17.10" stroke="#8FB032"/>
</g>
<g fill="#ff0000"><circle cx="56.90" cy="23.80" r="2.0"/><circle cx="61.19" cy="40.18" r="2.0"/><circle cx="65.47" cy="60.74" r="2.0"/><circle cx="69.76" cy="79.37" r="2.0"/><circle cx="74.04" cy="96.22" r="2.0"/><circle cx="78.33" cy="111.41" r="2.0"/><circle cx="82.62" cy="125.09" r="2.0"/><circle cx="86.90" cy="137.39" r="2.0"/><circle cx="91.19" cy="148.43" r="2.0"/><circle cx="95.47" cy="158.32" r="2.0"/><circle cx="99.76" cy="167.18" r="2.0"/><circle cx="104.05" cy="175.11" r="2.0"/><circle cx="108.33" cy="182.21" r="2.0"/><circle cx="112.62" cy="188.57" r="2.0"/><circle cx="116.90" cy="194.28" r="2.0"/><circle cx="121.19" cy="199.41" r="2.0"/><circle cx="125.48" cy="204.03" r="2.0"/><circle cx="129.76" cy="208.21" r="2.0"/><circle cx="134.05" cy="212.00" r="2.0"/><circle cx="138.33" cy="215.44" r="2.0"/><circle cx="142.62" cy="218.57" r="2.0"/><circle cx="146.91" cy="221.43" r="2.0"/><circle cx="151.19" cy="224.04" r="2.0"/><circle cx="155.48" cy="226.42" r="2.0"/><circle cx="159.76" cy="228.59" r="2.0"/><circle cx="164.05" cy="230.56" r="2.0"/><circle cx="168.34" cy="232.35" r="2.0"/><circle cx="172.62" cy="233.97" r="2.0"/><circle cx="176.91" cy="235.43" r="2.0"/><circle cx="181.19" cy="236.75" r="2.0"/><circle cx="185.48" cy="237.93" r="2.0"/><circle cx="189.77" cy="238.97" r="2.0"/><circle cx="194.05" cy="239.90" r="2.0"/><circle cx="198.34" cy="240.71" r="2.0"/><circle cx="202.62" cy="241.39" r="2.0"/><circle cx="206.91" cy="241.97" r="2.0"/><circle cx="211.20" cy="242.43" r="2.0"/><circle cx="215.48" cy="242.77" r="2.0"/><circle cx="219.77" cy="242.99" r="2.0"/><circle cx="224.05" cy="243.09" r="2.0"/><circle cx="228.34" cy="243.05" r="2.0"/><circle cx="232.63" cy="243.09" r="2.0"/><circle cx="236.91" cy="242.99" r="2.0"/><circle cx="241.20" cy="242.77" r="2.0"/><circle cx="245.48" cy="242.43" r="2.0"/><circle cx="249.77" cy="241.97" r="2.0"/><circle cx="254.06" cy="241.39" r="2.0"/><circle cx="258.34" cy="240.71" r="2.0"/><circle cx="262.63" cy="239.90" r="2.0"/><circle cx="266.91" cy="238.97" r="2.0"/><circle cx="271.20" cy="237.93" r="2.0"/><circle cx="275.49" cy="236.75" r="2.0"/><circle cx="279.77" cy="235.43" r="2.0"/><circle cx="284.06" cy="233.97" r="2.0"/><circle cx="288.34" cy="232.35" r="2.0"/><circle cx="292.63" cy="230.56" r="2.0"/><circle cx="296.92" cy="228.59" r="2.0"/><circle cx="301.20" cy="226.42" r="2.0"/><circle cx="305.49" cy="224.04" r="2.0"/><circle cx="309.77" cy="221.43" r="2.0"/><circle cx="314.06" cy="218.57" r="2.0"/><circle cx="318.35" cy="215.44" r="2.0"/><circle cx="322.63" cy="212.00" r="2.0"/><circle cx="326.92" cy="208.21" r="2.0"/><circle cx="331.20" cy="204.03" r="2.0"/><circle cx="335.49" cy="199.41" r="2.0"/><circle cx="339.78" cy="194.28" r="2.0"/><circle cx="344.06" cy="188.57" r="2.0"/><circle cx="348.35" cy="182.21" r="2.0"/><circle cx="352.63" cy="175.11" r="2.0"/><circle cx="356.92" cy="167.18" r="2.0"/><circle cx="361.21" cy="158.32" r="2.0"/><circle cx="365.49" cy="148.43" r="2.0"/><circle cx="369.78" cy="137.39" r="2.0"/><circle cx="374.06" cy="125.09" r="2.0"/><circle cx="378.35" cy="111.41" r="2.0"/><circle cx="382.64" cy="96.22" r="2.0"/><circle cx="386.92" cy="79.37" r="2.0"/><circle cx="391.21" cy="60.74" r="2.0"/><circle cx="395.49" cy="40.18" r="2.0"/></g>
<g font-size="14" fill="#000"><text x="57.1" y="282.9" text-anchor="middle" font-size="14.5">0</text><text x="142.6" y="282.9" text-anchor="middle" font-size="14.5">2</text><text x="228.2" y="282.9" text-anchor="middle" font-size="14.5">4</text><text x="313.9" y="282.9" text-anchor="middle" font-size="14.5">6</text><text x="399.5" y="282.9" text-anchor="middle" font-size="14.5">8</text><text x="48.7" y="74.0" text-anchor="end" font-size="14.4">1</text><text x="48.0" y="102.4" text-anchor="end" font-size="14.4">0.50</text><text x="48.0" y="168.2" text-anchor="end" font-size="14.4">0.10</text><text x="48.0" y="196.6" text-anchor="end" font-size="14.4">0.05</text>
<text x="207.0" y="303"><tspan font-style="italic">τ</tspan> [eV<tspan font-size="10" dy="-7.2" dx="0.4">-1</tspan><tspan dy="7.2" dx="0.7">]</tspan></text>
<text transform="translate(13.9,169.9) rotate(-90)" font-size="14.3">G<tspan font-size="11" dy="3.3">JJ</tspan><tspan dy="-3.3" dx="-0.4">(</tspan><tspan font-style="italic">τ</tspan>) <tspan dx="1.2">[</tspan>eV<tspan font-size="10.5" dy="-5.8">2</tspan><tspan dy="5.8" dx="0.4">]</tspan></text>
</g>
<!-- legend -->
<rect x="262.5" y="8.5" width="103" height="71" fill="#fff" stroke="#c8c8c8" stroke-width="1"/>
<g stroke-width="2.2" fill="none">
<path d="M266.4,18.9H294.6" stroke="#ff0000"/>
<path d="M266.4,35.4H294.6" stroke="#5E81B5"/>
<path d="M266.4,52.1H294.6" stroke="#E19C24"/>
<path d="M266.4,68.7H294.6" stroke="#8FB032"/>
</g>
<g font-size="11.7" fill="#000" text-anchor="middle">
<text x="334.6" y="23.2">Input</text>
<text x="334.8" y="39.9">MEM</text>
<text x="334.6" y="56.2">BG</text>
<text x="334.8" y="73.0">SPM</text>
</g>
</svg>
</body></html>
